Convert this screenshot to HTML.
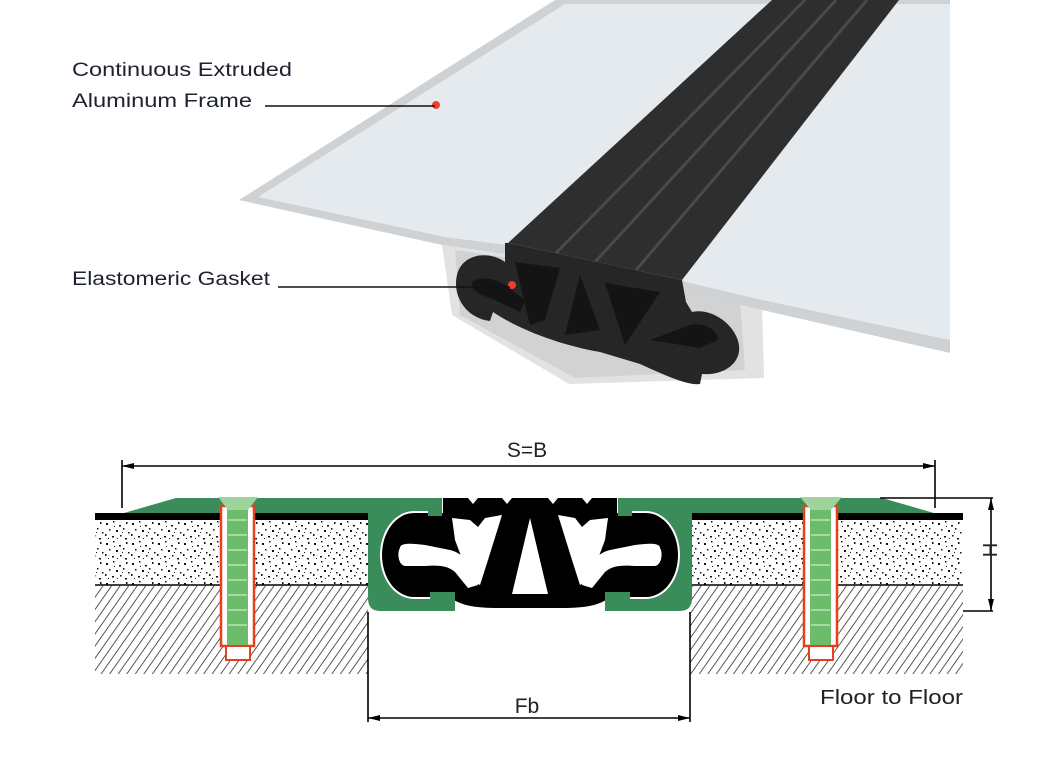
<!DOCTYPE html>
<html><head><meta charset="utf-8"><style>
html,body{margin:0;padding:0;background:#fff;}
svg{display:block;}
</style></head><body>
<svg width="1042" height="761" viewBox="0 0 1042 761" xmlns="http://www.w3.org/2000/svg">
<defs>
<pattern id="hatch" width="7" height="7" patternUnits="userSpaceOnUse" patternTransform="rotate(35)">
<rect width="7" height="7" fill="#fff"/>
<line x1="0" y1="0" x2="0" y2="7" stroke="#222" stroke-width="1.5"/>
</pattern>
<pattern id="dots" width="26" height="20" patternUnits="userSpaceOnUse">
<rect width="26" height="20" fill="#fff"/>
<g fill="#111">
<rect x="2" y="3" width="2" height="2"/><rect x="9" y="1" width="1.5" height="1.5"/><rect x="15" y="5" width="2" height="1.5"/><rect x="22" y="2" width="1.5" height="2"/>
<rect x="5" y="9" width="1.5" height="1.5"/><rect x="12" y="10" width="2" height="2"/><rect x="19" y="8" width="1.5" height="1.5"/><rect x="24" y="12" width="1.5" height="1.5"/>
<rect x="1" y="14" width="1.5" height="2"/><rect x="8" y="16" width="2" height="1.5"/><rect x="16" y="15" width="1.5" height="1.5"/><rect x="21" y="18" width="2" height="1.5"/>
<rect x="4" y="18" width="1" height="1"/><rect x="13" y="18" width="1" height="1"/><rect x="18" y="12" width="1" height="1"/><rect x="10" y="6" width="1" height="1"/>
</g>
</pattern>
</defs>

<!-- ===== top 3D illustration ===== -->
<polygon points="442,245 560,262 762,305 764,378 569,384 452,315" fill="#e2e2e2"/>
<polygon points="455,250 560,265 740,300 745,370 575,378 460,315" fill="#d2d2d2"/>
<polygon points="555,0 950,0 950,353 762,310 560,262 442,245 239,200" fill="#cfd2d5"/>
<polygon points="565,4 950,4 950,340 762,300 560,252 445,237 258,197" fill="#e5eaef"/>
<polygon points="772,0 899,0 682,280 508,243" fill="#2e2e2e"/>
<g stroke="#4a4a4a" stroke-width="3">
<line x1="805" y1="0" x2="555" y2="254"/>
<line x1="836" y1="0" x2="595" y2="262"/>
<line x1="867" y1="0" x2="636" y2="270"/>
</g>
<path d="M505,243 L505,262 C488,250 462,254 457,275 C452,296 466,318 490,321 L493,312 C520,330 560,345 600,352 L640,364 C662,374 688,386 700,384 L702,374 C726,376 746,360 737,338 C730,320 708,308 692,312 L686,302 L682,280 L508,243 Z" fill="#262626"/>
<g fill="#141414">
<path d="M472,282 C480,276 495,278 505,285 L525,300 L520,312 L495,300 C485,296 470,292 472,282Z"/>
<polygon points="515,262 560,268 545,320 530,325"/>
<polygon points="580,275 600,330 565,335"/>
<polygon points="605,283 660,292 625,345"/>
<path d="M650,340 L690,325 C705,322 718,330 718,340 L700,348 Z"/>
</g>
<circle cx="512" cy="285" r="4" fill="#f0402a"/>
<circle cx="436" cy="105" r="4" fill="#f0402a"/>

<g font-family="Liberation Sans, sans-serif" font-size="19" fill="#1e2230">
<text x="72" y="76" textLength="220" lengthAdjust="spacingAndGlyphs">Continuous Extruded</text>
<text x="72" y="107" textLength="180" lengthAdjust="spacingAndGlyphs">Aluminum Frame</text>
<text x="72" y="285" textLength="198" lengthAdjust="spacingAndGlyphs">Elastomeric Gasket</text>
</g>
<line x1="265" y1="106" x2="435" y2="106" stroke="#111" stroke-width="1.6"/>
<line x1="278" y1="287" x2="510" y2="287" stroke="#111" stroke-width="1.6"/>

<!-- ===== bottom section ===== -->
<rect x="95" y="521" width="275" height="64" fill="url(#dots)"/>
<rect x="690" y="521" width="273" height="64" fill="url(#dots)"/>
<rect x="95" y="586" width="273" height="88" fill="url(#hatch)"/>
<rect x="690" y="586" width="273" height="88" fill="url(#hatch)"/>
<line x1="95" y1="585" x2="370" y2="585" stroke="#000" stroke-width="1.5"/>
<line x1="690" y1="585" x2="963" y2="585" stroke="#000" stroke-width="1.5"/>
<rect x="95" y="513" width="275" height="7" fill="#000"/>
<rect x="690" y="513" width="273" height="7" fill="#000"/>

<path d="M124,513 L176,498 L440,498 L440,611 L380,611 Q368,611 368,598 L368,513 Z" fill="#3a8d5a"/>
<path d="M934,513 L882,498 L620,498 L620,611 L680,611 Q692,611 692,598 L692,513 Z" fill="#3a8d5a"/>
<ellipse cx="414" cy="555" rx="34" ry="44" fill="#fff"/>
<ellipse cx="646" cy="555" rx="34" ry="44" fill="#fff"/>
<rect x="414" y="511" width="26" height="88" fill="#fff"/>
<rect x="620" y="511" width="26" height="88" fill="#fff"/>
<g fill="#000">
<ellipse cx="414" cy="555" rx="32" ry="42"/>
<ellipse cx="646" cy="555" rx="32" ry="42"/>
<path d="M443,498 L617,498 L617,590 C605,605 590,608 560,608 L500,608 C470,608 455,605 443,590 Z"/>
<rect x="414" y="513" width="40" height="84"/>
<rect x="606" y="513" width="40" height="84"/>
</g>
<rect x="428" y="498" width="14" height="18" fill="#3a8d5a"/>
<rect x="618" y="498" width="14" height="18" fill="#3a8d5a"/>
<rect x="430" y="592" width="25" height="19" fill="#3a8d5a"/>
<rect x="605" y="592" width="25" height="19" fill="#3a8d5a"/>
<g fill="#fff">
<path d="M400,548 C400,543 410,543 425,545 L450,550 C462,553 470,562 475,575 L478,585 L468,588 L455,572 C448,566 440,565 425,566 L405,566 C398,565 397,552 400,548Z"/>
<path d="M660,548 C660,543 650,543 635,545 L610,550 C598,553 590,562 585,575 L582,585 L592,588 L605,572 C612,566 620,565 635,566 L655,566 C662,565 663,552 660,548Z"/>
<path d="M452,518 L470,520 L478,527 L485,518 L502,515 L488,560 L480,585 L470,580 L455,540 Z"/>
<path d="M608,518 L590,520 L582,527 L575,518 L558,515 L572,560 L580,585 L590,580 L605,540 Z"/>
<path d="M530,518 L548,594 L512,594 Z"/>
</g>
<g fill="#fff">
<polygon points="468,498 478,498 473,504"/><polygon points="502,498 512,498 507,504"/>
<polygon points="548,498 558,498 553,504"/><polygon points="582,498 592,498 587,504"/>
</g>

<g>
<rect x="221" y="506" width="33" height="140" fill="#fff" stroke="#e8401c" stroke-width="2.5"/>
<rect x="227" y="506" width="21" height="139" fill="#6cbd6a"/>
<g stroke="#cfe9c8" stroke-width="1.2">
<line x1="228" y1="520" x2="247" y2="520"/><line x1="228" y1="535" x2="247" y2="535"/><line x1="228" y1="550" x2="247" y2="550"/><line x1="228" y1="565" x2="247" y2="565"/><line x1="228" y1="580" x2="247" y2="580"/><line x1="228" y1="595" x2="247" y2="595"/><line x1="228" y1="610" x2="247" y2="610"/><line x1="228" y1="625" x2="247" y2="625"/>
</g>
<polygon points="218,497 258,497 248,510 228,510" fill="#9fd59c"/>
<rect x="226" y="646" width="24" height="14" fill="#fff" stroke="#e8401c" stroke-width="2"/>
</g>
<g>
<rect x="804" y="506" width="33" height="140" fill="#fff" stroke="#e8401c" stroke-width="2.5"/>
<rect x="810" y="506" width="21" height="139" fill="#6cbd6a"/>
<g stroke="#cfe9c8" stroke-width="1.2">
<line x1="811" y1="520" x2="830" y2="520"/><line x1="811" y1="535" x2="830" y2="535"/><line x1="811" y1="550" x2="830" y2="550"/><line x1="811" y1="565" x2="830" y2="565"/><line x1="811" y1="580" x2="830" y2="580"/><line x1="811" y1="595" x2="830" y2="595"/><line x1="811" y1="610" x2="830" y2="610"/><line x1="811" y1="625" x2="830" y2="625"/>
</g>
<polygon points="800,497 842,497 831,510 811,510" fill="#9fd59c"/>
<rect x="809" y="646" width="24" height="14" fill="#fff" stroke="#e8401c" stroke-width="2"/>
</g>

<g stroke="#000" stroke-width="1.6" fill="none">
<line x1="122" y1="466" x2="935" y2="466"/>
<line x1="122" y1="460" x2="122" y2="508"/>
<line x1="935" y1="460" x2="935" y2="508"/>
<line x1="880" y1="498" x2="993" y2="498"/>
<line x1="963" y1="611" x2="993" y2="611"/>
<line x1="991" y1="498" x2="991" y2="611"/>
<line x1="368" y1="612" x2="368" y2="722"/>
<line x1="690" y1="612" x2="690" y2="722"/>
<line x1="368" y1="718" x2="690" y2="718"/>
</g>
<g fill="#000">
<polygon points="122,466 134,463 134,469"/><polygon points="935,466 923,463 923,469"/>
<polygon points="368,718 380,715 380,721"/><polygon points="690,718 678,715 678,721"/>
<polygon points="991,498 988,510 994,510"/><polygon points="991,611 988,599 994,599"/>
</g>
<g font-family="Liberation Sans, sans-serif" fill="#222">
<text x="527" y="457" font-size="21" text-anchor="middle">S=B</text>
<text x="527" y="713" font-size="21" text-anchor="middle">Fb</text>
<text x="820" y="704" font-size="20" textLength="143" lengthAdjust="spacingAndGlyphs">Floor to Floor</text>
<text x="0" y="0" font-size="20" text-anchor="middle" transform="translate(983,550) rotate(90)">H</text>
</g>
</svg>
</body></html>
